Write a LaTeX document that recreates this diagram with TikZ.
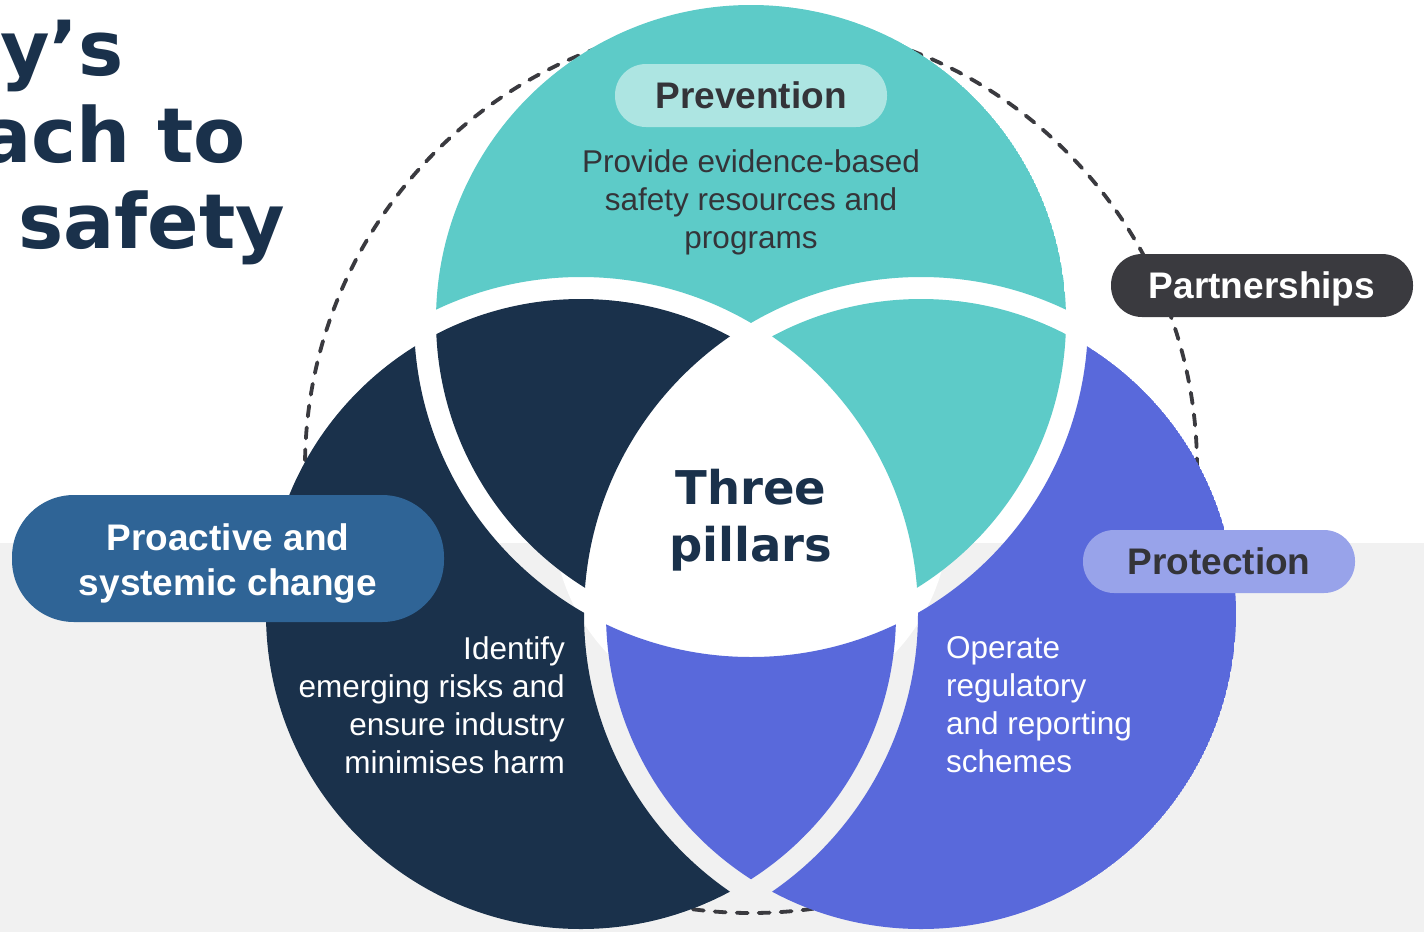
\documentclass[tikz,border=0pt]{standalone}
\usepackage{fontspec}
\setmainfont{Liberation Sans}
\newfontfamily\heavyfont{DejaVu Sans}
\usepackage{tikz}

\definecolor{PillarTeal}{HTML}{5DCBC8}
\definecolor{PillarNavy}{HTML}{1A314B}
\definecolor{PillarBlue}{HTML}{5969DB}
\definecolor{PillarMint}{HTML}{ADE5E2}
\definecolor{PillarLilac}{HTML}{98A3EA}
\definecolor{PillarSteel}{HTML}{2F6496}
\definecolor{PillarCharcoal}{HTML}{3A3A3F}
\definecolor{PillarInk}{HTML}{343439}
\definecolor{PaleGrey}{HTML}{F1F1F1}

\tikzset{
	pill/.style={rounded corners=31pt, minimum height=63pt, inner sep=0pt,
		text height=26.5pt, text depth=0pt, font=\fontsize{37}{44}\selectfont\bfseries},
	blurb/.style={inner sep=0pt, font=\fontsize{31.5}{38}\selectfont},
	headline/.style={inner sep=0pt, text=PillarNavy, font={\heavyfont\bfseries\fontsize{76}{86}\selectfont}},
	ring/.style={color=PillarCharcoal, line width=3.8pt, line cap=round, dash pattern=on 11pt off 11pt}
}
\newcommand{\carveout}[1]{\clip (-100,-100) rectangle (1600,1100) (#1) circle (337);}

\begin{document}
\begin{tikzpicture}[x=1pt,y=-1pt]

	\useasboundingbox (0,0) rectangle (1424,932);
	\fill[white] (0,0) rectangle (1424,543);
	\fill[PaleGrey] (0,543) rectangle (1424,932);

	\coordinate (T) at (751,320);
	\coordinate (N) at (581,614);
	\coordinate (B) at (921,614);

	\fill[white] (751,517) circle (198);
	\draw[ring] (751,467) circle (446);

	% outer parts of the three circles
	\begin{scope}[even odd rule]
		\clip (T) circle (315);
		\carveout{N} \carveout{B}
		\fill[PillarTeal] (T) circle (315);
	\end{scope}
	\begin{scope}[even odd rule]
		\clip (N) circle (315);
		\carveout{T} \carveout{B}
		\fill[PillarNavy] (N) circle (315);
	\end{scope}
	\begin{scope}[even odd rule]
		\clip (B) circle (315);
		\carveout{T} \carveout{N}
		\fill[PillarBlue] (B) circle (315);
	\end{scope}

	% overlaps
	\begin{scope}[even odd rule]
		\clip (T) circle (315);
		\clip (N) circle (315);
		\carveout{B}
		\fill[PillarNavy] (N) circle (315);
	\end{scope}
	\begin{scope}[even odd rule]
		\clip (T) circle (315);
		\clip (B) circle (315);
		\carveout{N}
		\fill[PillarTeal] (B) circle (315);
	\end{scope}
	\begin{scope}[even odd rule]
		\clip (N) circle (315);
		\clip (B) circle (315);
		\carveout{T}
		\fill[PillarBlue] (B) circle (315);
	\end{scope}

	\node[pill, fill=PillarMint, minimum width=272pt, text=PillarInk] (prevention) at (751,95.5) {Prevention};
	\node[blurb, align=center, text=PillarInk] (preventiontext) at (751,202) {Provide evidence-based\\safety resources and\\programs};

	\node[pill, fill=PillarCharcoal, minimum width=302pt, text=white] (partnerships) at (1262,285.5) {Partnerships};
	\node[pill, fill=PillarLilac, minimum width=272pt, text=PillarInk] (protection) at (1219,561.5) {Protection};

	\node[fill=PillarSteel, rounded corners=62pt, minimum width=432pt, minimum height=127pt, inner sep=0pt] (proactive) at (228,558.5) {};
	\node[align=center, inner sep=0pt, text=white, font=\fontsize{37}{45}\selectfont\bfseries] (proactivetext) at (228,563.5) {Proactive and\\systemic change};

	\node[align=center, inner sep=0pt, text=PillarNavy, font={\heavyfont\bfseries\fontsize{46.5}{57}\selectfont}] (pillars) at (751,520) {Three\\pillars};

	\node[blurb, align=right, anchor=east, text=white] (identify) at (565,705) {Identify\\emerging risks and\\ensure industry\\minimises harm};
	\node[blurb, align=left, anchor=west, text=white] (operate) at (946,705) {Operate\\regulatory\\and reporting\\schemes};

	\begin{scope}
		\clip (0,0) rectangle (1424,932);
		\node[headline, anchor=base east] (titleone) at (124,75) {ty’s};
		\node[headline, anchor=base east] (titletwo) at (246,162) {ach to};
		\node[headline, anchor=base west] (titlethree) at (18,248) {safety};
	\end{scope}

\end{tikzpicture}
\end{document}
